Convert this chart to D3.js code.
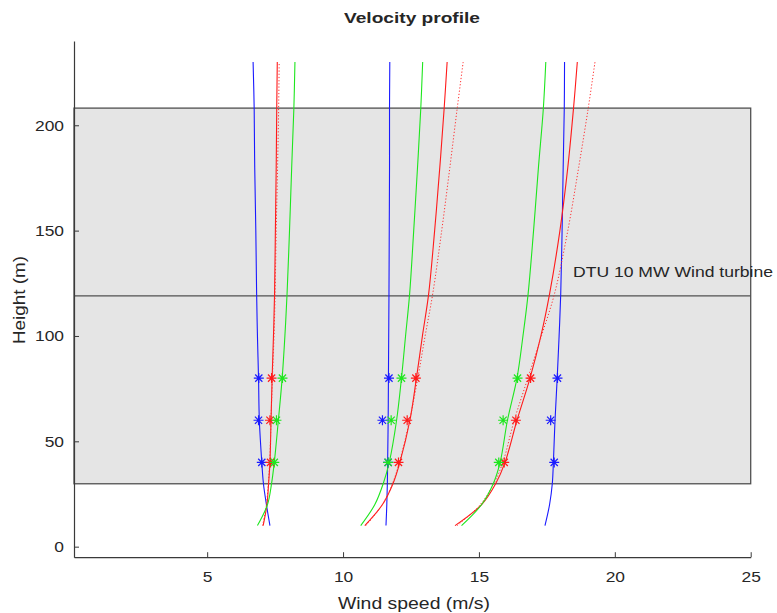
<!DOCTYPE html>
<html><head><meta charset="utf-8">
<script src="https://cdn.jsdelivr.net/npm/d3@7"></script>
<style>body{margin:0;background:#fff}svg{display:block}text{font-family:"Liberation Sans",Arial,Helvetica,sans-serif;fill:#262626}</style>
</head><body><svg id="c" width="777" height="613"></svg>
<script>
// ---- data ----
const heights = [10, 20, 30, 40, 60, 80, 100, 120, 150, 180, 208, 230];
const blue1  = [7.31, 7.18, 7.07, 7.01, 6.92, 6.89, 6.85, 6.82, 6.79, 6.75, 6.73, 6.69];
const red1   = [7.06, 7.20, 7.26, 7.31, 7.35, 7.39, 7.44, 7.48, 7.51, 7.54, 7.56, 7.58];
const redD1  = [7.04, 7.18, 7.25, 7.30, 7.35, 7.40, 7.46, 7.50, 7.54, 7.59, 7.63, 7.65];
const green1 = [6.85, 7.22, 7.37, 7.47, 7.62, 7.76, 7.86, 7.94, 8.03, 8.11, 8.19, 8.23];
const blue2  = [11.58, 11.61, 11.63, 11.64, 11.66, 11.67, 11.68, 11.69, 11.70, 11.71, 11.71, 11.72];
const red2   = [10.80, 11.45, 11.84, 12.09, 12.46, 12.70, 12.92, 13.15, 13.37, 13.56, 13.72, 13.83];
const redD2  = [10.84, 11.45, 11.82, 12.07, 12.45, 12.75, 13.02, 13.30, 13.63, 13.93, 14.20, 14.42];
const green2 = [10.65, 11.17, 11.48, 11.70, 11.97, 12.15, 12.30, 12.45, 12.60, 12.74, 12.86, 12.93];
const blue3  = [17.43, 17.60, 17.70, 17.74, 17.80, 17.88, 17.95, 18.01, 18.06, 18.10, 18.14, 18.15];
const red3   = [14.12, 15.10, 15.62, 15.96, 16.40, 16.88, 17.28, 17.60, 17.98, 18.27, 18.48, 18.62];
const redD3  = [14.20, 15.05, 15.55, 15.88, 16.30, 16.80, 17.30, 17.78, 18.27, 18.67, 19.02, 19.27];
const green3 = [14.36, 15.10, 15.53, 15.78, 16.05, 16.40, 16.62, 16.81, 17.01, 17.19, 17.37, 17.46];

const starHeights = [40, 60, 80];
const starBlue  = [[7.01, 6.89, 6.90], [11.66, 11.45, 11.69], [17.77, 17.64, 17.89]];
const starRed   = [[7.33, 7.31, 7.37], [12.04, 12.36, 12.68], [15.93, 16.36, 16.90]];
const starGreen = [[7.47, 7.55, 7.77], [11.66, 11.77, 12.15], [15.73, 15.89, 16.42]];

const rotorBand = [29.85, 119, 208.15]; // bottom, hub, top
const turbineLabel = "DTU 10 MW Wind turbine";
const xTicks = [5, 10, 15, 20, 25];
const yTicks = [0, 50, 100, 150, 200];

// ---- chart ----
const svg = d3.select("#c");
const x = d3.scaleLinear().domain([0.1, 25]).range([74, 750.7]);
const y = d3.scaleLinear().domain([-5, 240]).range([557.2, 41]);
const axisCol = "#3a3a3a";

// band
svg.append("rect")
  .attr("x", x(0.1)).attr("width", x(25) - x(0.1))
  .attr("y", y(rotorBand[2])).attr("height", y(rotorBand[0]) - y(rotorBand[2]))
  .attr("fill", "#e5e5e5").attr("stroke", "#505050").attr("stroke-width", 1.3);
svg.append("line")
  .attr("x1", x(0.1)).attr("x2", x(25))
  .attr("y1", y(rotorBand[1])).attr("y2", y(rotorBand[1]))
  .attr("stroke", "#505050").attr("stroke-width", 1.3);

// lines
const line = d3.line().x(d => x(d[0])).y(d => y(d[1])).curve(d3.curveCatmullRom);
const series = [
  [blue1, "#1a1aff", false], [red1, "#ff1a1a", false], [redD1, "#ff3030", true], [green1, "#1ee61e", false],
  [blue2, "#1a1aff", false], [red2, "#ff1a1a", false], [redD2, "#ff3030", true], [green2, "#1ee61e", false],
  [blue3, "#1a1aff", false], [red3, "#ff1a1a", false], [redD3, "#ff3030", true], [green3, "#1ee61e", false]
];
series.forEach(([vals, col, dotted]) => {
  svg.append("path")
    .datum(vals.map((v, i) => [v, heights[i]]))
    .attr("d", line).attr("fill", "none").attr("stroke", col)
    .attr("stroke-width", dotted ? 1 : 1.1)
    .attr("stroke-dasharray", dotted ? "1.2,2" : null);
});

// star markers
function star(g, cx, cy, col) {
  const r = 5, d = r * 0.72;
  g.append("path")
    .attr("d", `M${cx - r},${cy}H${cx + r}M${cx},${cy - r}V${cy + r}M${cx - d},${cy - d}L${cx + d},${cy + d}M${cx - d},${cy + d}L${cx + d},${cy - d}`)
    .attr("stroke", col).attr("stroke-width", 1.2).attr("fill", "none");
}
const gs = svg.append("g");
[[starBlue, "#1a1aff"], [starRed, "#ff1a1a"], [starGreen, "#1ee61e"]].forEach(([arr, col]) => {
  arr.forEach(grp => grp.forEach((v, i) => star(gs, x(v), y(starHeights[i]), col)));
});

// stretch helper: the reference's text renders wider than Liberation Sans
function stretch(sel, k) {
  sel.each(function () {
    const w = this.getComputedTextLength();
    d3.select(this).attr("textLength", w * k).attr("lengthAdjust", "spacingAndGlyphs");
  });
}

// axes
const xAxis = d3.axisBottom(x).tickValues(xTicks).tickSizeInner(-5).tickSizeOuter(0).tickPadding(14);
const gx = svg.append("g").attr("transform", `translate(0,${y(-5)})`).call(xAxis);
const yAxis = d3.axisLeft(y).tickValues(yTicks).tickSizeInner(-5).tickSizeOuter(0).tickPadding(10);
const gy = svg.append("g").attr("transform", `translate(${x(0.1)},0)`).call(yAxis);
[gx, gy].forEach(g => {
  g.select(".domain").attr("stroke", axisCol).attr("stroke-width", 1.2);
  g.selectAll(".tick line").attr("stroke", axisCol);
  g.selectAll(".tick text").attr("font-size", 15).attr("fill", "#262626")
    .style("font-family", '"Liberation Sans",Arial,sans-serif');
  stretch(g.selectAll(".tick text"), 1.16);
});

// labels
const t = svg.append("text").attr("x", 412).attr("y", 23).attr("text-anchor", "middle")
  .attr("font-size", 15).attr("font-weight", "bold").text("Velocity profile");
t.attr("textLength", 136).attr("lengthAdjust", "spacingAndGlyphs");
svg.append("text").attr("x", 414).attr("y", 609).attr("text-anchor", "middle")
  .attr("font-size", 16).text("Wind speed (m/s)")
  .attr("textLength", 152).attr("lengthAdjust", "spacingAndGlyphs");
svg.append("text").attr("transform", "translate(25,300) rotate(-90)").attr("text-anchor", "middle")
  .attr("font-size", 16).text("Height (m)")
  .attr("textLength", 88).attr("lengthAdjust", "spacingAndGlyphs");
svg.append("text").attr("x", 573).attr("y", 277).attr("font-size", 15).text(turbineLabel)
  .attr("textLength", 200).attr("lengthAdjust", "spacingAndGlyphs");
</script></body></html>
